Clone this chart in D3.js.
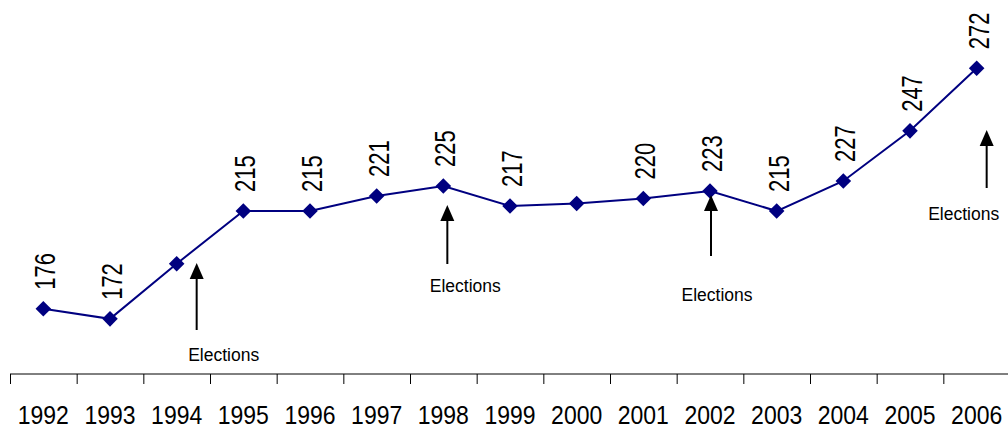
<!DOCTYPE html>
<html>
<head>
<meta charset="utf-8">
<script src="https://cdn.jsdelivr.net/npm/d3@7"></script>
<style>
  body { margin: 0; background: #fff; }
  svg { display: block; font-family: "Liberation Sans", Arial, sans-serif; }
</style>
</head>
<body>
<div id="chart"></div>
<script>
// data
const years = [1992, 1993, 1994, 1995, 1996, 1997, 1998, 1999, 2000, 2001, 2002, 2003, 2004, 2005, 2006];
const values = [176, 172, 194, 215, 215, 221, 225, 217, 218, 220, 223, 215, 227, 247, 272];
// the two unlabelled points in the original
const hiddenLabels = [1994, 2000];
const electionYears = [1994, 1998, 2002, 2006];
const electionText = "Elections";

// annotation placement (pixel offsets from the band centre)
const annoLayout = [
  { dx: 20, top: 263, bottom: 330, tx: 47, ty: 361 },
  { dx: 4, top: 205, bottom: 264, tx: 22, ty: 292 },
  { dx: 1, top: 195, bottom: 256, tx: 7, ty: 301 },
  { dx: 10, top: 130, bottom: 188, tx: -13, ty: 220 },
];

const width = 1008, height = 430;
const navy = "#000080";

const svg = d3.select("#chart").append("svg")
  .attr("width", width)
  .attr("height", height);

const x = d3.scaleBand().domain(years).range([10, 1010]);
const y = d3.scaleLinear().domain([150, 300]).range([374, -2]);
const cx = (yr) => x(yr) + x.bandwidth() / 2;

const data = years.map((yr, i) => ({ year: yr, value: values[i] }));

// x axis: baseline, ticks at band edges, stretched year labels
const axisY = y(150);
const axisG = svg.append("g");
axisG.append("line")
  .attr("x1", x.range()[0]).attr("x2", width)
  .attr("y1", axisY).attr("y2", axisY)
  .attr("stroke", "#000").attr("stroke-width", 1);
axisG.selectAll("line.tick")
  .data(years)
  .join("line")
  .attr("class", "tick")
  .attr("x1", (d) => x(d) + 0.5).attr("x2", (d) => x(d) + 0.5)
  .attr("y1", axisY).attr("y2", axisY + 10)
  .attr("stroke", "#000").attr("stroke-width", 1);
axisG.selectAll("text.year")
  .data(years)
  .join("text")
  .attr("class", "year")
  .attr("transform", (d) => `translate(${cx(d)},423.5) scale(1,1.15)`)
  .attr("text-anchor", "middle")
  .style("font-size", "23px")
  .text((d) => d);

// line + markers
const line = d3.line().x((d) => cx(d.year)).y((d) => y(d.value));
svg.append("path")
  .datum(data)
  .attr("d", line)
  .attr("fill", "none")
  .attr("stroke", navy)
  .attr("stroke-width", 2);

svg.selectAll("path.marker")
  .data(data)
  .join("path")
  .attr("class", "marker")
  .attr("d", d3.symbol(d3.symbolSquare, 121))
  .attr("transform", (d) => `translate(${cx(d.year)},${y(d.value)}) rotate(45)`)
  .attr("fill", navy);

// rotated value labels (glyphs stretched like the original)
svg.selectAll("text.val")
  .data(data.filter((d) => !hiddenLabels.includes(d.year)))
  .join("text")
  .attr("class", "val")
  .attr("transform", (d) => `translate(${cx(d.year) + 12},${y(d.value) - 19}) rotate(-90) scale(1,1.35)`)
  .style("font-size", "22px")
  .text((d) => d.value);

// election arrows
const annos = electionYears.map((yr, i) => ({ year: yr, ...annoLayout[i] }));
const annoG = svg.selectAll("g.anno")
  .data(annos)
  .join("g")
  .attr("class", "anno");

annoG.append("line")
  .attr("x1", (d) => cx(d.year) + d.dx).attr("x2", (d) => cx(d.year) + d.dx)
  .attr("y1", (d) => d.top + 12).attr("y2", (d) => d.bottom)
  .attr("stroke", "#000").attr("stroke-width", 2);

annoG.append("path")
  .attr("d", (d) => {
    const ax = cx(d.year) + d.dx;
    return `M${ax},${d.top} L${ax + 7},${d.top + 16} L${ax - 7},${d.top + 16} Z`;
  })
  .attr("fill", "#000");

annoG.append("text")
  .attr("x", (d) => cx(d.year) + d.tx)
  .attr("y", (d) => d.ty)
  .attr("text-anchor", "middle")
  .style("font-size", "17.5px")
  .text(electionText);
</script>
</body>
</html>
